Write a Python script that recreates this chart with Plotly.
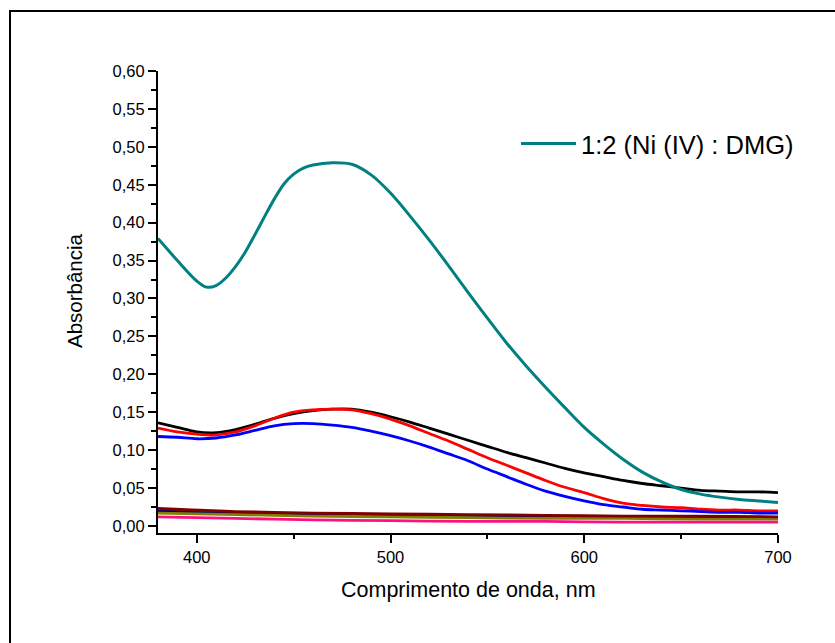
import plotly.graph_objects as go

# ---- data ----
wl = [380, 390, 400, 410, 420, 430, 440, 450, 460, 470, 480, 490, 500, 510, 520,
      530, 540, 550, 560, 570, 580, 590, 600, 610, 620, 630, 640, 650, 660, 670,
      680, 690, 700]

wl_teal = [380, 390, 400, 405, 410, 415, 420, 425, 430, 435, 440, 445, 450, 455, 460,
           470, 480, 490, 500, 510, 520, 530, 540, 550, 560, 570, 580, 590, 600, 610,
           620, 630, 640, 650, 660, 670, 680, 690, 700]
teal_ni_dmg = [0.379, 0.350, 0.323, 0.315, 0.317, 0.327, 0.342, 0.361, 0.384, 0.408,
               0.431, 0.451, 0.464, 0.472, 0.476, 0.479, 0.477, 0.463, 0.439, 0.409,
               0.377, 0.343, 0.308, 0.274, 0.241, 0.211, 0.183, 0.156, 0.130, 0.108,
               0.088, 0.071, 0.058, 0.048, 0.042, 0.038, 0.035, 0.033, 0.031]

black_s = [0.136, 0.130, 0.124, 0.123, 0.127, 0.134, 0.142, 0.148, 0.152, 0.154,
           0.154, 0.150, 0.144, 0.137, 0.129, 0.121, 0.113, 0.105, 0.097, 0.090,
           0.083, 0.076, 0.070, 0.065, 0.060, 0.056, 0.053, 0.050, 0.047, 0.046,
           0.045, 0.045, 0.044]

red_s = [0.129, 0.124, 0.121, 0.120, 0.124, 0.132, 0.142, 0.150, 0.153, 0.154,
         0.153, 0.148, 0.141, 0.132, 0.122, 0.112, 0.101, 0.090, 0.080, 0.070,
         0.060, 0.051, 0.044, 0.036, 0.030, 0.027, 0.025, 0.024, 0.022, 0.021,
         0.021, 0.020, 0.020]

blue_s = [0.118, 0.117, 0.115, 0.116, 0.120, 0.126, 0.132, 0.135, 0.135, 0.133,
          0.130, 0.125, 0.119, 0.112, 0.104, 0.095, 0.086, 0.075, 0.065, 0.055,
          0.046, 0.039, 0.033, 0.028, 0.025, 0.022, 0.021, 0.020, 0.019, 0.018,
          0.018, 0.017, 0.017]

wl_low = [380, 420, 460, 500, 540, 580, 620, 660, 700]
navy_s = [0.020, 0.017, 0.015, 0.014, 0.013, 0.012, 0.011, 0.011, 0.011]
olive_s = [0.017, 0.015, 0.013, 0.012, 0.011, 0.010, 0.010, 0.009, 0.009]
maroon_s = [0.023, 0.019, 0.017, 0.016, 0.015, 0.014, 0.013, 0.013, 0.012]
pink_s = [0.012, 0.010, 0.008, 0.007, 0.006, 0.006, 0.005, 0.005, 0.005]

legend_label = "1:2 (Ni (IV) : DMG)"
x_title = "Comprimento de onda, nm"
y_title = "Absorbância"

FONT = "Liberation Sans, Arial, sans-serif"

fig = go.Figure()

def add(x, y, color, name=None, width=2.8, show=False):
    fig.add_trace(go.Scatter(x=x, y=y, mode="lines", name=name or "",
                             line=dict(color=color, width=width, shape="spline", smoothing=0.9),
                             showlegend=show, hoverinfo="skip"))

add(wl, black_s, "#000000")
add(wl, red_s, "#ff0000")
add(wl, blue_s, "#0000ff")
add(wl_low, navy_s, "#000080")
add(wl_low, olive_s, "#808000")
add(wl_low, maroon_s, "#800000")
add(wl_low, pink_s, "#ff1080")
add(wl_teal, teal_ni_dmg, "#008080", name=legend_label, width=3, show=True)

L, R, T, B = 158, 57, 71, 110
W, H = 835, 643
pw, ph = W - L - R, H - T - B

def px(xp):
    return (xp - L) / pw

def py(yp):
    return (H - B - yp) / ph

fig.update_layout(
    width=W, height=H,
    margin=dict(l=L, r=R, t=T, b=B, pad=0),
    paper_bgcolor="white", plot_bgcolor="white",
    separators=",.",
    font=dict(family=FONT, color="black", size=16),
    showlegend=True,
    legend=dict(x=px(516), y=py(144), xanchor="left", yanchor="middle",
                bgcolor="rgba(0,0,0,0)", borderwidth=0, itemwidth=55,
                font=dict(family=FONT, size=25.5, color="black")),
    xaxis=dict(range=[380, 700], showline=True, linecolor="black", linewidth=2,
               ticks="outside", ticklen=8, tickwidth=2, tickcolor="black",
               dtick=100, tick0=0, showgrid=False, zeroline=False,
               tickfont=dict(family=FONT, size=16.5),
               minor=dict(dtick=50, tick0=0, ticks="outside", ticklen=4, tickwidth=2,
                          tickcolor="black", showgrid=False)),
    yaxis=dict(range=[-0.0093, 0.6], showline=True, linecolor="black", linewidth=2,
               ticks="outside", ticklen=8, tickwidth=2, tickcolor="black",
               dtick=0.05, tick0=0, tickformat=".2f", showgrid=False, zeroline=False,
               tickfont=dict(family=FONT, size=16.5),
               minor=dict(dtick=0.025, tick0=0, ticks="outside", ticklen=5, tickwidth=2,
                          tickcolor="black", showgrid=False)),
    annotations=[
        dict(text=x_title, xref="paper", yref="paper", x=px(468), y=py(590),
             xanchor="center", yanchor="middle", showarrow=False,
             font=dict(family=FONT, size=21.5, color="black")),
        dict(text=y_title, xref="paper", yref="paper", x=px(74), y=py(290),
             xanchor="center", yanchor="middle", showarrow=False, textangle=-90,
             font=dict(family=FONT, size=20.5, color="black")),
    ],
    shapes=[
        dict(type="rect", xref="paper", yref="paper",
             x0=px(10), y0=py(660), x1=px(850), y1=py(11),
             line=dict(color="black", width=2), fillcolor="rgba(0,0,0,0)", layer="below"),
    ],
)

fig.write_html("out.html")
